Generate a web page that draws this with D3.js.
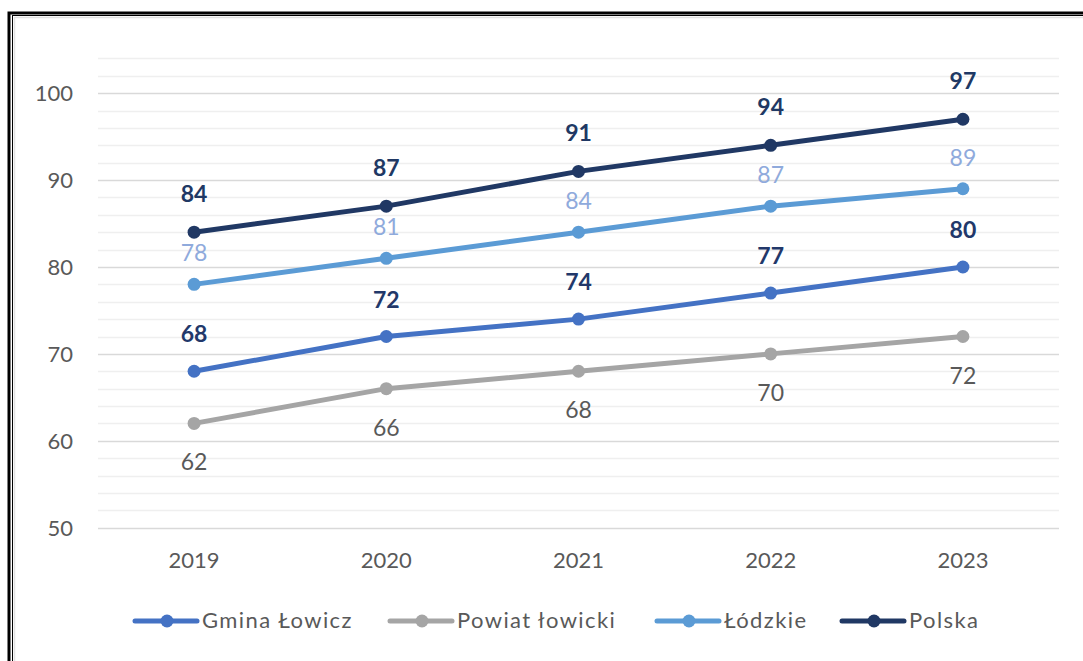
<!DOCTYPE html>
<html><head><meta charset="utf-8">
<script src="https://cdn.jsdelivr.net/npm/d3@7"></script>
<style>body{margin:0;background:#fff;} svg{display:block;}</style>
</head><body>
<svg id="c" width="1083" height="661"></svg>
<script>
const years = ["2019","2020","2021","2022","2023"];
const seriesNames = ["Gmina Łowicz","Powiat łowicki","Łódzkie","Polska"];
const gminaLowicz = [68,72,74,77,80];
const powiatLowicki = [62,66,68,70,72];
const lodzkie = [78,81,84,87,89];
const polska = [84,87,91,94,97];
const yTicks = [50,60,70,80,90,100];

const series = [
  {name: seriesNames[0], values: gminaLowicz, color:"#4472C4", label:"#22386A", bold:true, off:-37},
  {name: seriesNames[1], values: powiatLowicki, color:"#A5A5A5", label:"#595959", bold:false, off:39},
  {name: seriesNames[2], values: lodzkie, color:"#5B9BD5", label:"#8FAADC", bold:false, off:-31},
  {name: seriesNames[3], values: polska, color:"#203864", label:"#203864", bold:true, off:-38}
];
const drawOrder = [1,0,2,3];

const svg = d3.select("#c");
const font = "Lato, 'Open Sans', sans-serif";

// border
svg.append("rect").attr("x",9).attr("y",13).attr("width",1200).attr("height",800)
  .attr("fill","none").attr("stroke","#000").attr("stroke-width",3);
svg.append("rect").attr("x",12.5).attr("y",15.5).attr("width",1200).attr("height",800)
  .attr("fill","none").attr("stroke","#000").attr("stroke-width",1);
svg.append("line").attr("x1",14.5).attr("x2",14.5).attr("y1",17).attr("y2",661).attr("stroke","#e2e2e2").attr("stroke-width",1.5);
svg.append("line").attr("x1",14).attr("x2",1083).attr("y1",17.5).attr("y2",17.5).attr("stroke","#e2e2e2").attr("stroke-width",1.5);

const x = d3.scaleBand().domain(years).range([98,1059]);
const y = d3.scaleLinear().domain([50,104]).range([527.7,58.4]);

// gridlines
const minor = d3.range(50,105,2);
svg.append("g").selectAll("line").data(minor).join("line")
  .attr("x1",98).attr("x2",1059)
  .attr("y1",d=>Math.round(y(d))+0.5).attr("y2",d=>Math.round(y(d))+0.5)
  .attr("stroke",d=>d%10===0?"#d9d9d9":"#efefef").attr("stroke-width",d=>d%10===0?1.5:1.3);

// y axis
const yAxis = d3.axisLeft(y).tickValues(yTicks).tickSize(0).tickPadding(0);
const gy = svg.append("g").attr("transform","translate(73,0)").call(yAxis);
gy.select(".domain").remove();
gy.selectAll("text").attr("font-family",font).attr("font-size",22).attr("fill","#595959").attr("dy","0.34em");

// x axis
const xAxis = d3.axisBottom(x).tickSize(0).tickPadding(0);
const gx = svg.append("g").attr("transform","translate(0,561)").call(xAxis);
gx.select(".domain").remove();
gx.selectAll("text").attr("font-family",font).attr("font-size",22).attr("fill","#595959").attr("dy","0.34em");

const cx = d => x(d) + x.bandwidth()/2;
const line = d3.line().x((d,i)=>cx(years[i])).y(d=>y(d));

drawOrder.forEach(k=>{
  const s = series[k];
  const g = svg.append("g");
  g.append("path").attr("d",line(s.values)).attr("fill","none").attr("stroke",s.color)
    .attr("stroke-width",5).attr("stroke-linejoin","round").attr("stroke-linecap","round");
  g.selectAll("circle").data(s.values).join("circle")
    .attr("cx",(d,i)=>cx(years[i])).attr("cy",d=>y(d)).attr("r",6.5).attr("fill",s.color);
});
series.forEach(s=>{
  svg.append("g").selectAll("text").data(s.values).join("text")
    .attr("x",(d,i)=>cx(years[i]))
    .attr("y",d=>y(d) + s.off)
    .attr("dy","0.35em")
    .attr("text-anchor","middle").attr("font-family",font)
    .attr("font-size",23).attr("font-weight",s.bold?"bold":"normal")
    .attr("fill",s.label).text(d=>d);
});

// legend
const legendX = [135,390,657,842];
const lg = svg.append("g");
series.forEach((s,i)=>{
  const g = lg.append("g").attr("transform",`translate(${legendX[i]},621)`);
  g.append("line").attr("x1",0).attr("x2",62).attr("y1",0).attr("y2",0)
    .attr("stroke",s.color).attr("stroke-width",5).attr("stroke-linecap","round");
  g.append("circle").attr("cx",32).attr("cy",0).attr("r",6.5).attr("fill",s.color);
  g.append("text").attr("x",67).attr("y",0).attr("dy","0.34em").attr("font-family",font)
    .attr("font-size",22).attr("letter-spacing","1.4px").attr("fill","#595959").text(s.name);
});
</script>
</body></html>
